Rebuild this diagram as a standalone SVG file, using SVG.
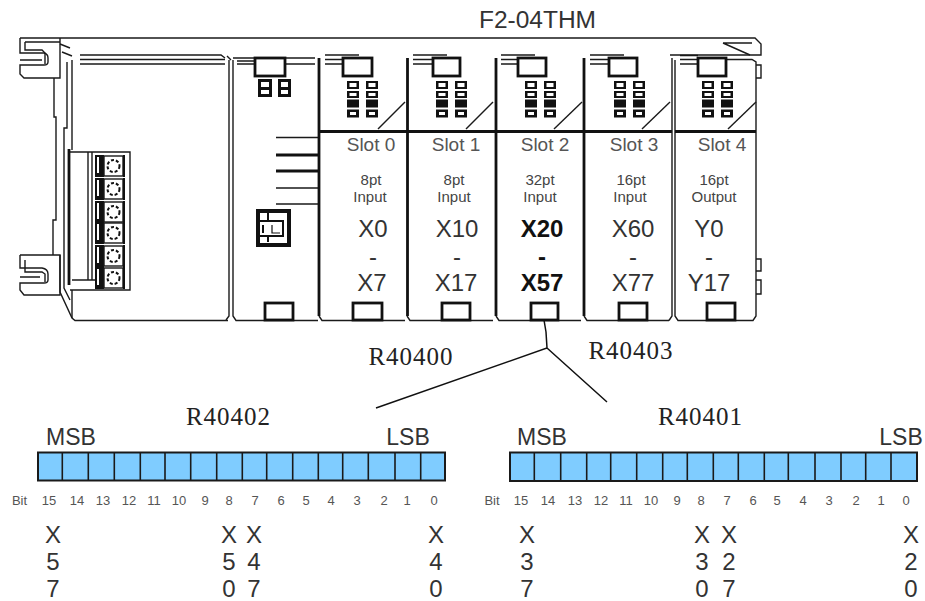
<svg xmlns="http://www.w3.org/2000/svg" width="925" height="601" viewBox="0 0 925 601">
<style>
.l{fill:none;stroke:#1a1a1a;stroke-width:1.4}
.t{fill:none;stroke:#111;stroke-width:2.8}
.s{fill:#fff;stroke:#111;stroke-width:2.8}
.k{fill:#111}
.w{fill:#fff}
.bar{fill:#7fccff;stroke:#1a1a1a;stroke-width:2}
.d{stroke:#1a1a1a;stroke-width:1.6}
text{font-family:"Liberation Sans",Arial,sans-serif;fill:#333;text-anchor:middle}
.slot{font-size:19px;fill:#555}
.sm{font-size:15px;fill:#444}
.io{font-size:24px}
.b{font-weight:bold;fill:#111}
.ser{font-family:"Liberation Serif","Times New Roman",serif;font-size:25px;fill:#222;letter-spacing:1px}
.big{font-size:23px}
.bit{font-size:13px;fill:#555}
.x{font-size:24px}
</style>
<defs>
<g id="leds">
<rect class="k" x="0" y="0" width="12" height="8"/><rect class="w" x="2.500" y="2" width="7" height="4"/>
<rect class="k" x="19" y="0" width="12" height="8"/><rect class="w" x="21.500" y="2" width="7" height="4"/>
<rect class="k" x="0" y="10" width="12" height="7"/><rect class="w" x="2.500" y="12" width="7" height="3"/>
<rect class="k" x="19" y="10" width="12" height="7"/><rect class="w" x="21.500" y="12" width="7" height="3"/>
<rect class="k" x="0" y="18.500" width="12" height="8"/>
<rect class="k" x="19" y="18.500" width="12" height="8"/>
<rect class="k" x="0" y="28.500" width="12" height="8"/><rect class="w" x="3" y="31" width="6" height="3"/>
<rect class="k" x="19" y="28.500" width="12" height="8"/><rect class="w" x="22" y="31" width="6" height="3"/>
</g>
<g id="screw">
<rect class="k" x="95" y="0" width="9" height="22"/>
<rect class="w" x="97" y="2" width="2" height="16"/>
<rect class="l" x="104" y="1" width="19" height="20" fill="#fff"/>
<circle cx="113.500" cy="11" r="6" fill="none" stroke="#111" stroke-width="2" stroke-dasharray="3 2"/>
<rect class="k" x="123" y="0" width="2" height="22"/>
</g>
<path id="rails" class="l" d="M0,55H34M0,59.500H36M0,64H38"/>
</defs>

<g id="chassis">
<path class="l" d="M20,38H755L761,44V55H670"/>
<path class="l" d="M723,43H752M723,43L750,55"/>
<path class="l" d="M20,38V53H44Q48,54 48,58V62Q48,65 44,65H20V74L24,78H60V38"/>
<path class="l" d="M25,42H60M25,42V50H42L45,53V64M20,60H42"/>
<path class="l" d="M60,44L70,48M62,52L72,56"/>
<path class="l" d="M54,78V117H56V220H53V255M60,255V292L72,318L75,320.500H228"/>
<path class="l" d="M20,255V268H42Q48,269 48,274V280Q48,283 44,283H20V290L24,295H60V255H20"/>
<path class="l" d="M25,260V272H42L45,274V282M20,277H40"/>
<path class="l" d="M67,62V128H64V288L70,300M72,60V150M72,290V318"/>
<path class="t" d="M69,149V285" stroke-width="2"/>
<path class="l" d="M80,55H221L225,58M80,59.500H225M80,64H225"/>
</g>

<g id="terminal-block">
<path class="l" d="M70,152H130V290H70M88,152V280M92,152V280M72,280H95"/>
<use href="#screw" y="155"/><use href="#screw" y="178"/><use href="#screw" y="201"/><use href="#screw" y="222"/><use href="#screw" y="245"/><use href="#screw" y="267"/>
</g>

<g id="cpu">
<path class="l" d="M229,60V316L226,320M233,60V316L236,320.500H318M227,56L231,60M233,58H254M237,61H254M237,64H254M285,58H315M285,64H315"/>
<rect class="s" x="255" y="58" width="30" height="18"/>
<rect class="k" x="258" y="79" width="14" height="18"/><rect class="w" x="261" y="82" width="8" height="5"/><rect class="w" x="261" y="90" width="8" height="4"/>
<rect class="k" x="278" y="79" width="13" height="18"/><rect class="w" x="281" y="82" width="7" height="5"/><rect class="w" x="281" y="90" width="7" height="4"/>
<path d="M276,137.500H318M276,188H318M276,204H318" class="l"/>
<path d="M276,155H318M276,171H318" class="t"/>
<rect class="k" x="256" y="209" width="35" height="38"/>
<rect class="w" x="260" y="213" width="27" height="30"/>
<path fill="none" stroke="#111" stroke-width="2" d="M268,213V221H260M268,221H283V236H268V242M260,236H268M263,225V233"/>
<path fill="none" stroke="#111" stroke-width="1.2" d="M272,225V233H280"/>
<rect class="s" x="265" y="303" width="28" height="17"/>
</g>

<g id="slot-0">
<use href="#rails" x="325"/>
<path class="t" d="M319,58V316M319,131.500H408"/>
<path class="l" d="M319,316L322,320.500H405"/>
<rect class="s" x="343" y="58" width="29" height="18"/>
<use href="#leds" x="347" y="81"/>
<path class="l" d="M378,129L405,102"/>
<rect class="s" x="353" y="303" width="29" height="17"/>
<text class="slot" x="371" y="151">Slot 0</text>
<text class="sm" x="371" y="185">8pt</text>
<text class="sm" x="370" y="202">Input</text>
<text class="io" x="373" y="237">X0</text>
<text class="io" x="373" y="265">-</text>
<text class="io" x="372" y="291">X7</text>
</g>

<g id="slot-1">
<use href="#rails" x="413"/>
<path class="t" d="M407.500,58V316M407.500,131.500H496"/>
<path class="l" d="M407,316L410,320.500H493"/>
<rect class="s" x="433" y="58" width="27" height="18"/>
<use href="#leds" x="436" y="81"/>
<path class="l" d="M466,129L493,102"/>
<rect class="s" x="442" y="303" width="28" height="17"/>
<text class="slot" x="456" y="151">Slot 1</text>
<text class="sm" x="454" y="185">8pt</text>
<text class="sm" x="454" y="202">Input</text>
<text class="io" x="457" y="237">X10</text>
<text class="io" x="457" y="265">-</text>
<text class="io" x="456" y="291">X17</text>
</g>

<g id="slot-2">
<use href="#rails" x="501"/>
<path class="t" d="M496,58V316M496,131.500H584"/>
<path class="l" d="M496,316L499,320.500H581"/>
<rect class="s" x="518" y="58" width="28" height="18"/>
<use href="#leds" x="525" y="81"/>
<path class="l" d="M554,129L582,102"/>
<rect class="s" x="531" y="303" width="27" height="17"/>
<text class="slot" x="545" y="151">Slot 2</text>
<text class="sm" x="540" y="185">32pt</text>
<text class="sm" x="540" y="202">Input</text>
<text class="io b" x="542" y="237">X20</text>
<text class="io b" x="542" y="265">-</text>
<text class="io b" x="542" y="291">X57</text>
</g>

<g id="slot-3">
<use href="#rails" x="590"/>
<path class="t" d="M584,58V316M584,131.500H672"/>
<path class="l" d="M584,316L587,320.500H669"/>
<rect class="s" x="609" y="58" width="28" height="18"/>
<use href="#leds" x="614" y="81"/>
<path class="l" d="M642,129L670,102"/>
<rect class="s" x="619" y="303" width="28" height="17"/>
<text class="slot" x="634" y="151">Slot 3</text>
<text class="sm" x="631" y="185">16pt</text>
<text class="sm" x="630" y="202">Input</text>
<text class="io" x="633" y="237">X60</text>
<text class="io" x="633" y="265">-</text>
<text class="io" x="633" y="291">X77</text>
</g>

<g id="slot-4">
<path class="l" d="M680,55.500H698M680,59.500H698M680,64H698M726,59.500H752L756,62V316L753,320.500H678L675,316V60M672,58V316L669,320.500"/>
<path class="t" d="M675,131.500H756"/>
<rect class="s" x="698" y="58" width="28" height="18"/>
<use href="#leds" x="702" y="81"/>
<path class="l" d="M728,129L756,102"/>
<rect class="s" x="707" y="303" width="28" height="17"/>
<path class="l" d="M756,65H761V78H756M756,259H761V271H756M756,280H761V294H756"/>
<text class="slot" x="722" y="151">Slot 4</text>
<text class="sm" x="714" y="185">16pt</text>
<text class="sm" x="714" y="202">Output</text>
<text class="io" x="709" y="237">Y0</text>
<text class="io" x="709" y="265">-</text>
<text class="io" x="709" y="291">Y17</text>
</g>

<g id="connectors">
<path fill="none" stroke="#111" stroke-width="1.5" d="M544,320L546,332L547,348L376,408M547,348L607,402"/>
</g>

<g id="title"><text x="537.500" y="28" font-size="24.500">F2-04THM</text></g>

<g id="register-labels">
<text class="ser" x="411" y="365">R40400</text>
<text class="ser" x="631" y="359">R40403</text>
<text class="ser" x="228.500" y="425">R40402</text>
<text class="ser" x="700.500" y="425">R40401</text>
</g>

<g id="register-left">
<rect class="bar" x="38" y="452.500" width="407" height="28"/>
<path class="d" d="M62.300,452V481M88.300,452V481M114.300,452V481M140.300,452V481M165,452V481M190.700,452V481M216.700,452V481M242.300,452V481M266.700,452V481M292.700,452V481M318.300,452V481M342.700,452V481M368.300,452V481M395,452V481M420.700,452V481"/>
<text class="big" x="71" y="445">MSB</text>
<text class="big" x="408" y="445">LSB</text>
<g class="bits">
<text class="bit" x="19.500" y="505">Bit</text><text class="bit" x="49" y="505">15</text><text class="bit" x="77" y="505">14</text><text class="bit" x="103" y="505">13</text><text class="bit" x="129" y="505">12</text><text class="bit" x="154" y="505">11</text><text class="bit" x="179" y="505">10</text><text class="bit" x="205" y="505">9</text><text class="bit" x="229" y="505">8</text><text class="bit" x="255" y="505">7</text><text class="bit" x="281" y="505">6</text><text class="bit" x="306" y="505">5</text><text class="bit" x="331" y="505">4</text><text class="bit" x="357" y="505">3</text><text class="bit" x="384" y="505">2</text><text class="bit" x="407" y="505">1</text><text class="bit" x="434" y="505">0</text>
</g>
<text class="x" x="53" y="543">X</text><text class="x" x="53" y="570">5</text><text class="x" x="53" y="597">7</text>
<text class="x" x="229" y="543">X</text><text class="x" x="229" y="570">5</text><text class="x" x="229" y="597">0</text>
<text class="x" x="254" y="543">X</text><text class="x" x="254" y="570">4</text><text class="x" x="254" y="597">7</text>
<text class="x" x="436" y="543">X</text><text class="x" x="436" y="570">4</text><text class="x" x="436" y="597">0</text>
</g>

<g id="register-right">
<rect class="bar" x="510" y="452.500" width="407" height="28.500"/>
<path class="d" d="M534.300,452V481M560.700,452V481M586.700,452V481M610.700,452V481M636.700,452V481M662.700,452V481M687.300,452V481M713.300,452V481M738.300,452V481M764.300,452V481M788.300,452V481M815,452V481M841,452V481M865.700,452V481M891,452V481"/>
<text class="big" x="542" y="445">MSB</text>
<text class="big" x="901" y="445">LSB</text>
<g class="bits">
<text class="bit" x="492" y="505">Bit</text><text class="bit" x="521" y="505">15</text><text class="bit" x="548" y="505">14</text><text class="bit" x="575" y="505">13</text><text class="bit" x="601" y="505">12</text><text class="bit" x="626" y="505">11</text><text class="bit" x="651" y="505">10</text><text class="bit" x="677" y="505">9</text><text class="bit" x="701" y="505">8</text><text class="bit" x="727" y="505">7</text><text class="bit" x="753" y="505">6</text><text class="bit" x="777" y="505">5</text><text class="bit" x="803" y="505">4</text><text class="bit" x="829" y="505">3</text><text class="bit" x="856" y="505">2</text><text class="bit" x="881" y="505">1</text><text class="bit" x="906" y="505">0</text>
</g>
<text class="x" x="527" y="543">X</text><text class="x" x="527" y="570">3</text><text class="x" x="527" y="597">7</text>
<text class="x" x="702" y="543">X</text><text class="x" x="702" y="570">3</text><text class="x" x="702" y="597">0</text>
<text class="x" x="729" y="543">X</text><text class="x" x="729" y="570">2</text><text class="x" x="729" y="597">7</text>
<text class="x" x="911" y="543">X</text><text class="x" x="911" y="570">2</text><text class="x" x="911" y="597">0</text>
</g>
</svg>
